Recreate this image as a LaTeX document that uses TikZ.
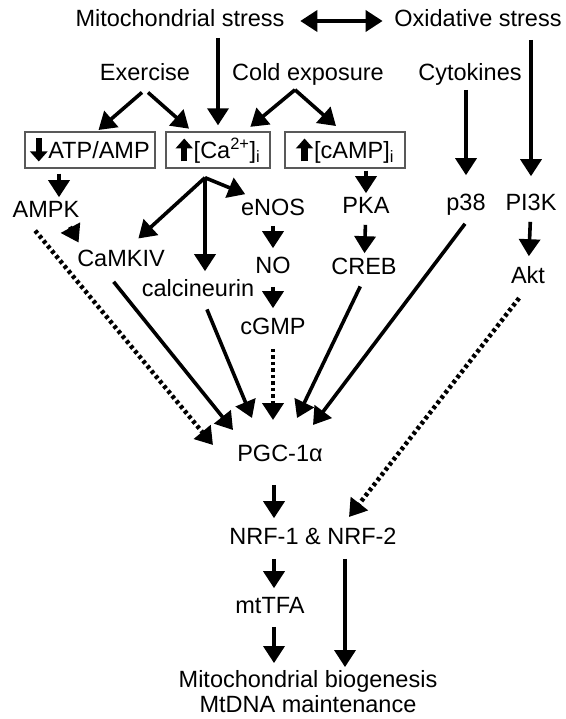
\documentclass[tikz,border=0pt]{standalone}
\usepackage{fontspec}
\setmainfont{Liberation Sans}
\usetikzlibrary{arrows.meta,positioning,calc}

\newcommand{\boxdown}{\tikz[baseline=0pt]\draw[line width=6.5pt,-{Triangle[length=10pt,width=17pt]}] (0,20pt) -- (0,-3pt);}
\newcommand{\boxup}{\tikz[baseline=0pt]\draw[line width=6.5pt,-{Triangle[length=10pt,width=17pt]}] (0,-3pt) -- (0,20pt);}

\begin{document}
\begin{tikzpicture}[x=1pt,y=-1pt,->,>={Triangle[length=17pt,width=21pt]},line width=3.6pt,
  every node/.style={font=\fontsize{23.5}{25}\selectfont},
  lbl/.style={inner sep=2pt,text height=17pt,text depth=5pt},
  box/.style={draw=black!65,line width=1.2pt,minimum height=35pt,inner xsep=3pt},
  dots/.style={dash pattern=on 3.5pt off 3pt,line width=4.5pt}]

\useasboundingbox (0,0) rectangle (565,719);

% stresses and stimuli
\node[lbl] (mito) at (180,21) {Mitochondrial stress};
\node[lbl] (oxid) at (478,21) {Oxidative stress};
\node[lbl] (exer) at (145,75) {Exercise};
\node[lbl] (cold) at (308,75) {Cold exposure};
\node[lbl] (cyto) at (470,75) {Cytokines};

% second messengers
\node[box,minimum width=130pt] (atp) at (90,150) {\boxdown\hspace{1pt}ATP/AMP};
\node[box,minimum width=104pt] (ca) at (218,150) {\boxup\hspace{1pt}[Ca\textsuperscript{2+}]\textsubscript{i}};
\node[box,minimum width=120pt] (camp) at (345,150) {\boxup\hspace{1pt}[cAMP]\textsubscript{i}};

% kinases and effectors
\node[lbl] (ampk) at (46,212) {AMPK};
\node[lbl] (enos) at (273,209) {eNOS};
\node[lbl] (pka) at (366,208) {PKA};
\node[lbl] (p38) at (466,205) {p38};
\node[lbl] (pi3k) at (531,205) {PI3K};
\node[lbl] (camkiv) at (121,260) {CaMKIV};
\node[lbl] (no) at (273,267) {NO};
\node[lbl] (creb) at (364,268) {CREB};
\node[lbl] (akt) at (528,277) {Akt};
\node[lbl] (calcin) at (198,290) {calcineurin};
\node[lbl] (cgmp) at (273,328) {cGMP};

% transcription
\node[lbl] (pgc) at (280,455) {PGC-1α};
\node[lbl] (nrf) at (313,538) {NRF-1 \& NRF-2};
\node[lbl] (mttfa) at (270,607) {mtTFA};
\node[align=center,inner sep=2pt] (bio) at (308,692) {Mitochondrial biogenesis\\MtDNA maintenance};

\coordinate (cafan) at ([xshift=-13pt,yshift=-9pt]ca.south);

\draw[<->,shorten <=12pt,shorten >=8pt] (mito) -- (oxid);
\draw[shorten <=2pt,shorten >=6pt] (mito.south -| ca) -- (ca);
\draw[shorten <=4pt,shorten >=14pt] (oxid.south -| pi3k) -- (pi3k);
\draw[shorten >=15pt] (cyto.south -| p38) -- (p38);

\draw[shorten <=4pt,shorten >=2pt] (exer.south) -- ([xshift=7pt]atp.north);
\draw[shorten <=4pt,shorten >=4pt] (exer.south) -- ([xshift=-26pt]ca.north);
\draw[shorten >=7pt] ([xshift=-13pt]cold.south) -- ([xshift=27pt]ca.north);
\draw[shorten >=8pt] ([xshift=-13pt]cold.south) -- ([xshift=-3pt]camp.north);

\draw[shorten <=5pt] ([xshift=-31pt]atp.south) -- ([xshift=13pt]ampk.north);
\draw[shorten >=10pt] (cafan) -- ([xshift=10pt]camkiv.north);
\draw (cafan) -- ([xshift=8pt]enos.north west);
\draw[shorten >=4pt] (cafan) -- ([xshift=7pt]calcin.north);
\draw[shorten <=2pt] (camp.south -| pka) -- (pka);

\draw[shorten <=2pt,shorten >=4pt] (enos) -- (no);
\draw[shorten <=5pt,shorten >=5pt] (no) -- (cgmp);
\draw[shorten <=2pt] (pka) -- (creb);
\draw[shorten <=2pt,shorten >=6pt] (pi3k) -- (akt);

% into PGC-1a
\draw[dots,shorten >=3pt] ([xshift=24pt]ampk.south) -- ([xshift=-41pt]camkiv.north);
\draw[dots,shorten <=5pt] ([xshift=-14pt]ampk.south) -- ([shift={(-67pt,10pt)}]pgc.center);
\draw[shorten <=9pt] ([xshift=-13pt]camkiv.south) -- ([shift={(-47pt,25pt)}]pgc.center);
\draw[shorten <=5pt] ([xshift=7pt]calcin.south) -- ([shift={(-28pt,37pt)}]pgc.center);
\draw[dots,shorten <=6pt] (cgmp.south) -- ([shift={(-7pt,35pt)}]pgc.center);
\draw[shorten <=4pt] ([xshift=-2pt]creb.south) -- ([shift={(17pt,37pt)}]pgc.center);
\draw[shorten <=5pt] ([xshift=2pt]p38.south) -- ([shift={(33pt,30pt)}]pgc.center);
\draw[dots,shorten <=8pt] ([xshift=-4pt]akt.south) -- ([shift={(36pt,21pt)}]nrf.center);

% downstream
\draw[shorten <=15pt,shorten >=5pt] ([xshift=-6pt]pgc.south) -- ([xshift=-39pt]nrf.north);
\draw[shorten <=6pt,shorten >=4pt] ([xshift=-39pt]nrf.south) -- ([xshift=4pt]mttfa.north);
\draw[shorten <=5pt,shorten >=4pt] ([xshift=4pt]mttfa.south) -- ([xshift=-34pt]bio.north);
\draw[shorten <=6pt] ([xshift=32pt]nrf.south) -- ([xshift=37pt]bio.north);

\end{tikzpicture}
\end{document}
